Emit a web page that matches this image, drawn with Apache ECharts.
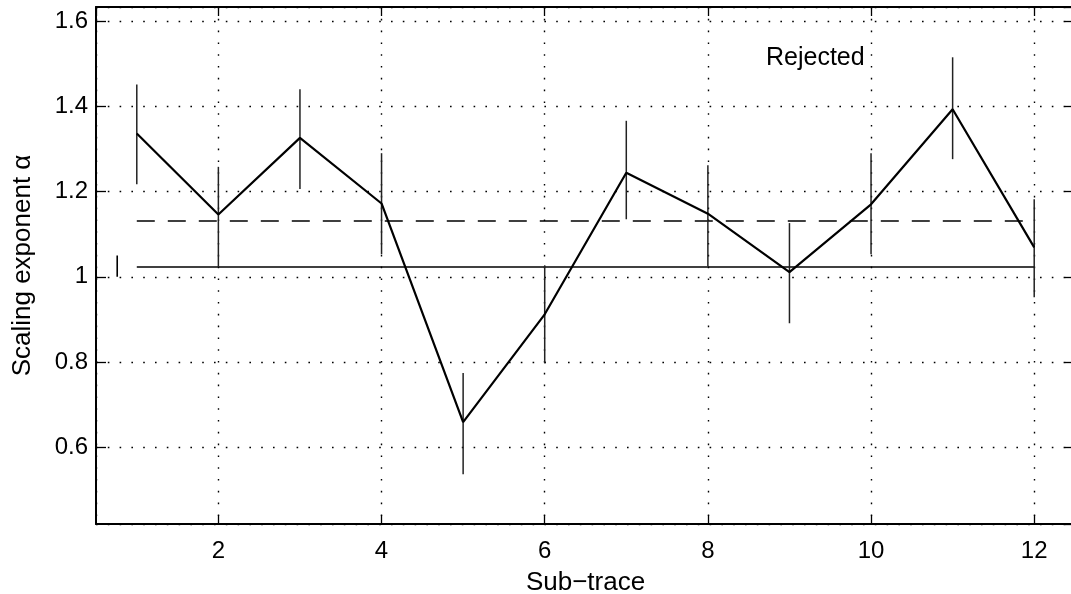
<!DOCTYPE html>
<html>
<head>
<meta charset="utf-8">
<script src="https://cdn.jsdelivr.net/npm/echarts@6/dist/echarts.min.js"></script>
<style>
  html, body { margin: 0; padding: 0; background: #fff; }
  #chart { width: 1071px; height: 594px; }
</style>
</head>
<body>
<div id="chart"></div>
<script>
// Sub-trace index and fitted scaling exponent
const subTrace = [1, 2, 3, 4, 5, 6, 7, 8, 9, 10, 11, 12];
const alpha    = [1.336, 1.146, 1.326, 1.172, 0.659, 0.912, 1.244, 1.148, 1.011, 1.170, 1.393, 1.069];
// Error bar extents
const alphaLow  = [1.217, 1.023, 1.206, 1.053, 0.537, 0.797, 1.135, 1.025, 0.891, 1.053, 1.276, 0.952];
const alphaHigh = [1.451, 1.258, 1.440, 1.290, 0.774, 1.027, 1.366, 1.262, 1.126, 1.290, 1.515, 1.182];
// Reference levels drawn across the sub-traces
const refSpan = [1, 12];
const solidLevel = 1.023;
const dashedLevel = 1.131;
// Short marker near the left edge
const markerX = 0.76;
const markerRange = [1.0, 1.05];
// Tick labels
const xTicks = [2, 4, 6, 8, 10, 12];
const yTicks = [0.6, 0.8, 1, 1.2, 1.4, 1.6];
const annotation = 'Rejected';

const FONT = '"Liberation Sans", Arial, Helvetica, sans-serif';
const near = (v, list) => list.some(t => Math.abs(t - v) < 1e-6);

const chart = echarts.init(document.getElementById('chart'));

const dotted = { color: '#000', width: 1.4, type: [1.6, 10.2] };

chart.setOption({
  backgroundColor: '#fff',
  animation: false,
  grid: {
    left: 96, right: -4, top: 7, bottom: 70,
    containLabel: false, outerBoundsMode: 'none'
  },
  xAxis: [
    {
      type: 'value', min: 0.5, max: 12.5, splitNumber: 6,
      name: 'Sub\u2212trace', nameLocation: 'middle', nameGap: 46,
      nameTextStyle: { fontFamily: FONT, fontSize: 26, color: '#000' },
      axisLine: { show: true, onZero: false, lineStyle: { color: '#000', width: 2 } },
      axisTick: { show: true, inside: true, length: 9, lineStyle: { color: '#000', width: 1.3 } },
      axisLabel: {
        fontFamily: FONT, fontSize: 24, color: '#000', margin: 15,
        showMinLabel: false, showMaxLabel: false,
        formatter: v => near(v, xTicks) ? String(v) : ''
      },
      splitLine: { show: true, lineStyle: dotted }
    },
    {
      type: 'value', min: 0.5, max: 12.5, splitNumber: 6, position: 'top',
      axisLine: { show: true, onZero: false, lineStyle: { color: '#000', width: 2 } },
      axisTick: { show: true, inside: true, length: 9, lineStyle: { color: '#000', width: 1.3 } },
      axisLabel: { show: false },
      splitLine: { show: false }
    }
  ],
  yAxis: [
    {
      type: 'value', min: 0.42, max: 1.633, splitNumber: 6,
      name: 'Scaling exponent \u03b1', nameLocation: 'middle', nameGap: 60,
      nameTextStyle: { fontFamily: FONT, fontSize: 26, color: '#000' },
      axisLine: { show: true, onZero: false, lineStyle: { color: '#000', width: 2 } },
      axisTick: { show: true, inside: true, length: 10, lineStyle: { color: '#000', width: 1.3 } },
      axisLabel: {
        fontFamily: FONT, fontSize: 24, color: '#000', margin: 8,
        showMinLabel: false, showMaxLabel: false,
        formatter: v => near(v, yTicks) ? String(+v.toFixed(1)) : ''
      },
      splitLine: { show: true, lineStyle: dotted }
    },
    {
      type: 'value', min: 0.42, max: 1.633, splitNumber: 6, position: 'right',
      axisLine: { show: true, onZero: false, lineStyle: { color: '#000', width: 2 } },
      axisTick: { show: true, inside: true, length: 10, lineStyle: { color: '#000', width: 1.3 } },
      axisLabel: { show: false },
      splitLine: { show: false }
    }
  ],
  series: [
    {
      name: 'errorbars',
      type: 'custom',
      xAxisIndex: 0, yAxisIndex: 0,
      data: subTrace.map((x, i) => [x, alphaLow[i], alphaHigh[i]]),
      renderItem: (params, api) => {
        const p0 = api.coord([api.value(0), api.value(1)]);
        const p1 = api.coord([api.value(0), api.value(2)]);
        return {
          type: 'line',
          shape: { x1: p0[0], y1: p0[1], x2: p1[0], y2: p1[1] },
          style: { stroke: '#222', lineWidth: 1.5 }
        };
      },
      z: 3
    },
    {
      name: 'solid level',
      type: 'line',
      data: refSpan.map(x => [x, solidLevel]),
      symbol: 'none',
      lineStyle: { color: '#000', width: 1.6 },
      z: 2
    },
    {
      name: 'dashed level',
      type: 'line',
      data: refSpan.map(x => [x, dashedLevel]),
      symbol: 'none',
      lineStyle: { color: '#000', width: 1.6, type: [18, 13] },
      z: 2
    },
    {
      name: 'marker',
      type: 'line',
      data: markerRange.map(y => [markerX, y]),
      symbol: 'none',
      lineStyle: { color: '#000', width: 1.6 },
      z: 2
    },
    {
      name: 'alpha',
      type: 'line',
      data: subTrace.map((x, i) => [x, alpha[i]]),
      symbol: 'none',
      lineStyle: { color: '#000', width: 2.2 },
      z: 4
    }
  ],
  graphic: [
    {
      type: 'text',
      left: 766, top: 46,
      style: { text: annotation, fontFamily: FONT, fontSize: 25, fill: '#000' }
    }
  ]
});
</script>
</body>
</html>
